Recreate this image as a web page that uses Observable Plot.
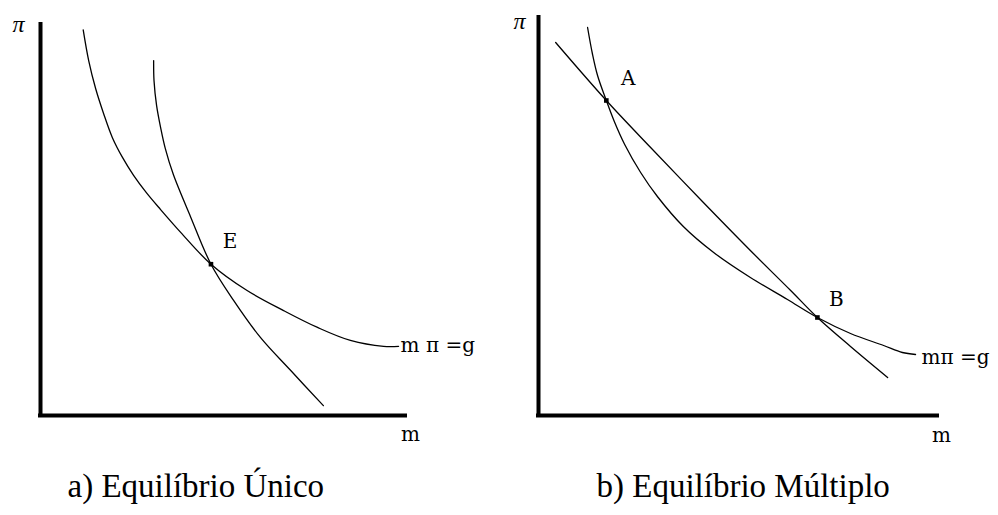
<!DOCTYPE html>
<html><head><meta charset="utf-8">
<script src="https://cdn.jsdelivr.net/npm/d3@7"></script>
<script src="https://cdn.jsdelivr.net/npm/@observablehq/plot@0.6"></script>
<style>
html,body{margin:0;padding:0;background:#fff;}
#wrap{position:relative;width:998px;height:515px;overflow:hidden;background:#fff;}
#wrap svg{position:absolute;top:0;overflow:visible;}
</style></head><body><div id="wrap"></div>
<script>
// ---- Panel a) Equilíbrio Único ----
const aHypM  = [11.7, 13.2, 15.1, 17.3, 19.7, 22.5, 25.5, 29.0, 32.9, 38.4, 46.7, 56.6, 66.6, 75.9, 84.9, 94.0, 98.1];
const aHypPi = [98.1, 90.3, 83.2, 76.8, 70.7, 65.6, 61.1, 56.7, 52.4, 46.6, 38.5, 31.8, 26.7, 22.4, 19.1, 17.6, 17.6];
const aSteepM  = [31.0, 31.1, 31.8, 32.9, 34.2, 36.4, 41.1, 46.7, 52.9, 60.3, 68.5, 77.5];
const aSteepPi = [90.3, 85.2, 78.9, 73.3, 67.9, 61.3, 50.6, 38.5, 29.3, 19.8, 11.5, 2.5];
const aPointNames = ["E"];
const aPointM  = [46.7];
const aPointPi = [38.5];
const aCurveLabel = "m π =g";
const aCaption = "a) Equilíbrio Único";

// ---- Panel b) Equilíbrio Múltiplo ----
const bLineM  = [4.3, 17.0, 28.1, 40.6, 53.1, 63.2, 69.9, 78.2, 87.5];
const bLinePi = [93.25, 78.75, 67.0, 54.0, 41.25, 31.25, 24.5, 17.25, 9.5];
const bHypM  = [12.3, 13.5, 14.8, 17.0, 19.0, 21.6, 25.6, 29.8, 36.3, 43.9, 53.1, 62.4, 69.9, 78.2, 86.5, 91.2, 94.5];
const bHypPi = [97.0, 90.5, 85.0, 78.75, 73.5, 67.75, 60.75, 54.75, 47.25, 40.75, 34.5, 29.0, 24.5, 20.5, 17.5, 15.75, 15.25];
const bPointNames = ["A", "B"];
const bPointM  = [17.0, 69.9];
const bPointPi = [78.75, 24.5];
const bCurveLabel = "mπ =g";
const bCaption = "b) Equilíbrio Múltiplo";

// axis labels and extents
const axisLabelX = "m";
const axisLabelY = "π";
const axisMax = 100;

const serifFont = "'Liberation Serif', 'Times New Roman', Tinos, Times, 'Nimbus Roman', serif";
const labelFont = "'DejaVu Serif', serif";

const zip = (xs, ys) => xs.map((x, i) => ({m: x, pi: ys[i]}));

function panel(cfg) {
  const hyp = zip(cfg.hypM, cfg.hypPi);
  const other = zip(cfg.otherM, cfg.otherPi);
  const pts = cfg.names.map((n, i) => ({name: n, m: cfg.pM[i], pi: cfg.pPi[i]}));
  const tail = hyp[hyp.length - 1];
  const marks = [
    Plot.ruleX([0], {y1: 0, y2: axisMax, stroke: "black", strokeWidth: 4}),
    Plot.ruleY([0], {x1: 0, x2: axisMax, stroke: "black", strokeWidth: 4, strokeLinecap: "square"}),
    Plot.line(hyp, {x: "m", y: "pi", curve: "catmull-rom", stroke: "black", strokeWidth: 1.3}),
    Plot.line(other, {x: "m", y: "pi", curve: "catmull-rom", stroke: "black", strokeWidth: 1.3}),
    Plot.dot(pts, {x: "m", y: "pi", symbol: "square", r: 2.6, fill: "black", stroke: "none"}),
    Plot.text([tail], {x: "m", y: "pi", text: () => cfg.curveLabel, textAnchor: "start", lineAnchor: "middle",
      dx: cfg.tailDx, dy: cfg.tailDy, fontFamily: labelFont, fontSize: 20, fill: "black"}),
    Plot.text([{m: 0, pi: axisMax}], {x: "m", y: "pi", text: () => axisLabelY, textAnchor: "middle", lineAnchor: "middle",
      dx: cfg.piDx, dy: cfg.piDy, fontFamily: serifFont, fontStyle: "italic", fontSize: 24, fill: "black"}),
    Plot.text([{m: axisMax, pi: 0}], {x: "m", y: "pi", text: () => axisLabelX, textAnchor: "middle", lineAnchor: "middle",
      dx: cfg.mDx, dy: cfg.mDy, fontFamily: labelFont, fontSize: 20, fill: "black"}),
    Plot.text([cfg.caption], {frameAnchor: "bottom-left", text: d => d, textAnchor: "start", lineAnchor: "middle",
      dx: cfg.capDx, dy: 71, fontFamily: serifFont, fontSize: 33, fill: "black"})
  ];
  pts.forEach((p, i) => {
    marks.push(Plot.text([p], {x: "m", y: "pi", text: "name", textAnchor: "middle", lineAnchor: "middle",
      dx: cfg.ptDx[i], dy: cfg.ptDy[i], fontFamily: labelFont, fontSize: 20, fill: "black"}));
  });
  const svg = Plot.plot({
    width: 499, height: 515,
    marginLeft: cfg.ml, marginRight: cfg.mr, marginTop: cfg.mt, marginBottom: 100,
    x: {domain: [0, axisMax], axis: null},
    y: {domain: [0, axisMax], axis: null},
    style: {background: "white", overflow: "visible"},
    marks
  });
  svg.style.left = cfg.left + "px";
  return svg;
}

const wrap = document.getElementById("wrap");
wrap.appendChild(panel({
  left: 0, ml: 40, mr: 94, mt: 22,
  hypM: aHypM, hypPi: aHypPi, otherM: aSteepM, otherPi: aSteepPi,
  names: aPointNames, pM: aPointM, pPi: aPointPi, ptDx: [19], ptDy: [-23],
  curveLabel: aCurveLabel, tailDx: 2, tailDy: -1,
  piDx: -22, piDy: 2, mDx: 5, mDy: 19,
  caption: aCaption, capDx: 27
}));
wrap.appendChild(panel({
  left: 499, ml: 39, mr: 61, mt: 15,
  hypM: bHypM, hypPi: bHypPi, otherM: bLineM, otherPi: bLinePi,
  names: bPointNames, pM: bPointM, pPi: bPointPi, ptDx: [22, 19], ptDy: [-22, -18],
  curveLabel: bCurveLabel, tailDx: 6, tailDy: 3,
  piDx: -19, piDy: 6, mDx: 4, mDy: 20,
  caption: bCaption, capDx: 58
}));
</script>
</body></html>
